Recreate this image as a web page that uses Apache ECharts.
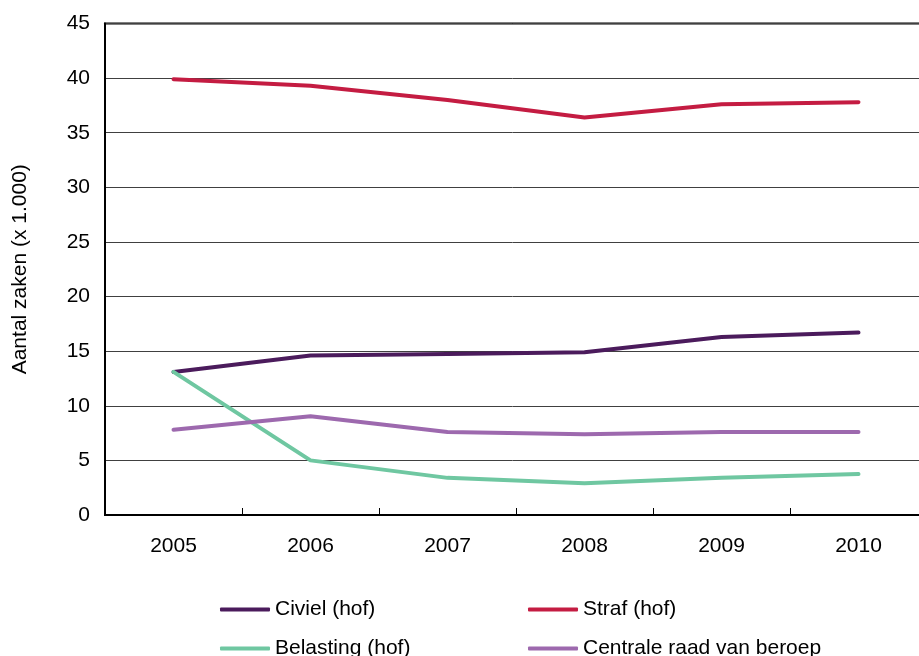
<!DOCTYPE html>
<html>
<head>
<meta charset="utf-8">
<script src="https://cdn.jsdelivr.net/npm/echarts@6/dist/echarts.min.js"></script>
<style>html,body{margin:0;padding:0;background:#fff}#c{width:919px;height:656px}</style>
</head>
<body>
<div id="c"></div>
<script>
const years = ['2005','2006','2007','2008','2009','2010'];
const civiel = [13.1, 14.6, 14.75, 14.9, 16.3, 16.7];
const straf = [39.9, 39.3, 38.0, 36.4, 37.6, 37.8];
const belasting = [13.1, 5.0, 3.4, 2.9, 3.4, 3.75];
const centrale = [7.8, 9.05, 7.6, 7.4, 7.6, 7.6];
const names = ['Civiel (hof)', 'Straf (hof)', 'Belasting (hof)', 'Centrale raad van beroep'];
const colors = ['#4b1b5c', '#c41c42', '#6fc7a1', '#9d69ae'];
const values = [civiel, straf, belasting, centrale];

const font = 'Liberation Sans, Arial, sans-serif';
const chart = echarts.init(document.getElementById('c'), null, {renderer: 'canvas'});

const legendPos = [[220, 599], [528, 599], [220, 638], [528, 638]];
const legends = names.map((n, i) => ({
  data: [n],
  left: legendPos[i][0],
  top: legendPos[i][1],
  itemWidth: 50,
  itemHeight: 4,
  icon: 'roundRect',
  padding: 0,
  textStyle: {fontFamily: font, fontSize: 21, color: '#000'}
}));

chart.setOption({
  animation: false,
  color: colors,
  textStyle: {fontFamily: font},
  grid: {left: 105, top: 23.5, width: 822, height: 491.5, show: true, borderColor: '#000', borderWidth: 2,
         containLabel: false, outerBoundsMode: 'none'},
  legend: legends,
  xAxis: {
    type: 'category',
    data: years,
    boundaryGap: true,
    axisLine: {lineStyle: {color: '#000', width: 2}},
    axisTick: {show: true, inside: true, length: 7, lineStyle: {color: '#000', width: 1}},
    axisLabel: {color: '#000', fontSize: 21, fontFamily: font, margin: 21},
    splitLine: {show: false}
  },
  yAxis: {
    type: 'value',
    min: 0, max: 45, interval: 5,
    name: 'Aantal zaken (x 1.000)',
    nameLocation: 'middle',
    nameGap: 74,
    nameTextStyle: {color: '#000', fontSize: 21, fontFamily: font},
    axisLine: {show: true, lineStyle: {color: '#000', width: 2}},
    axisTick: {show: false},
    axisLabel: {color: '#000', fontSize: 21, fontFamily: font, margin: 15},
    splitLine: {show: true, lineStyle: {color: '#404040', width: 1}}
  },
  series: names.map((n, i) => ({
    name: n,
    type: 'line',
    data: values[i],
    symbol: 'none',
    lineStyle: {width: 4, color: colors[i], cap: 'round', join: 'round'},
    itemStyle: {color: colors[i]}
  }))
});
</script>
</body>
</html>
